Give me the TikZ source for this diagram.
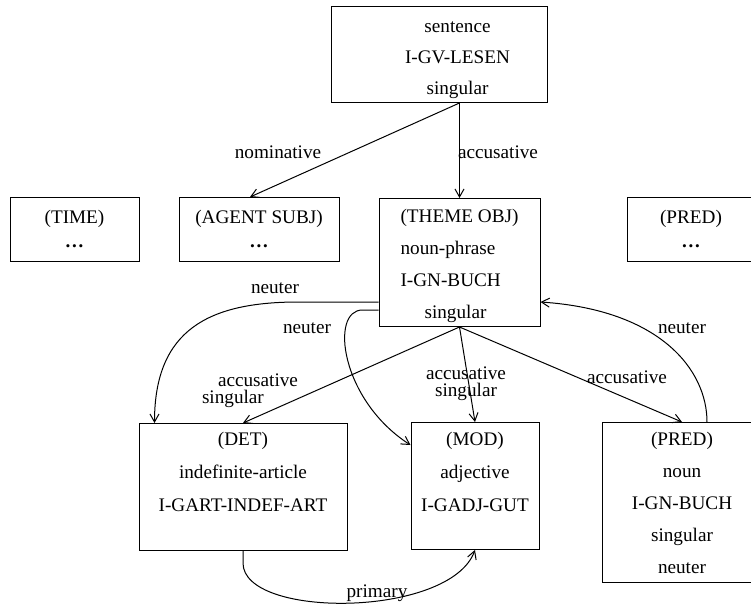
\documentclass[tikz,border=0pt]{standalone}
\usepackage{fontspec}
\setmainfont{Liberation Serif}
\usetikzlibrary{arrows.meta,calc}

\tikzset{
  wordbox/.style={draw, line width=0.5pt, inner sep=0pt, align=center,
    anchor=north, font=\fontsize{9.6}{#1}\selectfont},
  wordbox/.default=16.5,
  rel/.style={inner sep=0pt, align=center, font=\fontsize{9.6}{8.5}\selectfont},
  link/.style={->, line width=0.5pt},
}

\begin{document}
\begin{tikzpicture}[x=0.5pt,y=-0.5pt,>={Straight Barb[length=4pt,width=4.5pt]}]
\useasboundingbox (0,0) rectangle (751,605);

% frames
\node[wordbox=15.5, minimum width=108pt, text height=44pt, text depth=4pt]
  (sent) at (439,6)
  {\hspace*{18.5pt}sentence\\\hspace*{18.5pt}I-GV-LESEN\\\hspace*{18.5pt}singular};
\node[wordbox=12, minimum width=64.5pt, text height=25pt, text depth=7pt]
  (time) at (74.5,197) {(TIME)\\\textbf{\ldots}};
\node[wordbox=12, minimum width=80pt, text height=25pt, text depth=7pt]
  (agent) at (259,197) {(AGENT SUBJ)\\\textbf{\ldots}};
\node[wordbox=16, align=left, minimum width=80.5pt, text height=60pt, text depth=4pt]
  (theme) at (459.5,198)
  {(THEME OBJ)\\noun-phrase\\I-GN-BUCH\\\hspace*{12pt}singular};
\node[wordbox=12, minimum width=64pt, text height=25pt, text depth=7pt]
  (predA) at (691,197) {(PRED)\\\textbf{\ldots}};
\node[wordbox, minimum width=104pt, text height=44pt, text depth=19.5pt]
  (det) at (243,423) {(DET)\\indefinite-article\\I-GART-INDEF-ART};
\node[wordbox, minimum width=64pt, text height=44.5pt, text depth=19pt]
  (mod) at (475,422) {(MOD)\\adjective\\I-GADJ-GUT};
\node[wordbox=16, minimum width=80pt, text height=75.5pt, text depth=4.5pt]
  (predB) at (682,422) {(PRED)\\noun\\I-GN-BUCH\\singular\\neuter};

% labels
\node[rel] (nomlab) at (278,152) {nominative};
\node[rel] (acclab) at (498,152) {accusative};
\node[rel] (neulabA) at (275,288) {neuter};
\node[rel] (neulabB) at (307,328) {neuter};
\node[rel, align=left] (detlab) at (250,391) {\hspace*{8pt}accusative\\singular};
\node[rel] (modlab) at (466,384) {accusative\\singular};
\node[rel] (predlab) at (627,377) {accusative};
\node[rel] (neulabC) at (682,328) {neuter};
\node[rel] (primlab) at (377,593) {primary};

% links
\draw[link] (sent.south -| theme.north) -- (theme.north);
\draw[link] (sent.south -| theme.north) -- ($(agent.north)+(-9,0)$);
\draw[link] ($(theme.north west)+(0,104)$) -- ++(-80,0)
  .. controls +(-90,0) and +(0,-93) .. ($(det.north west)+(16,0)$);
\draw[link] ($(theme.north west)+(0,112)$) -- ++(-16,0)
  .. controls +(-33,0) and +(-70,-45) .. ($(mod.north west)+(0,23)$);
\draw[link] (theme.south) -- (det.north);
\draw[link] (theme.south) -- (mod.north);
\draw[link] (theme.south) -- (predB.north);
\draw[link] ($(predB.north)+(25,0)$)
  .. controls +(0,-52) and +(120,8) .. ($(theme.north east)+(0,104)$);
\draw[link] (det.south) -- ++(0,12)
  .. controls +(0,56) and +(-25,68) .. (mod.south);
\end{tikzpicture}
\end{document}
